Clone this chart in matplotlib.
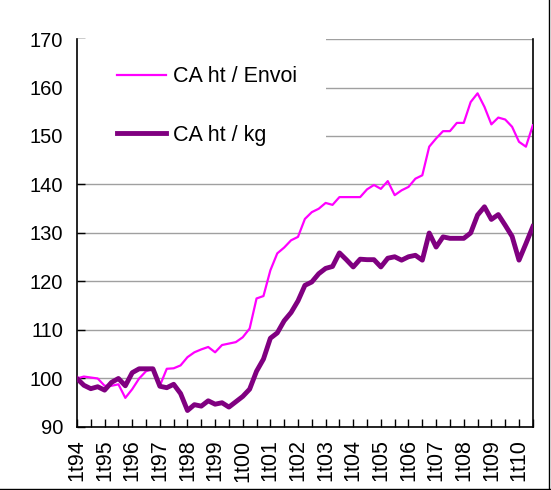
import numpy as np
import matplotlib
matplotlib.use('Agg')
import matplotlib.pyplot as plt
from matplotlib.lines import Line2D
from matplotlib.patches import Rectangle

plt.rcParams['font.family'] = ['Liberation Sans', 'DejaVu Sans']

# quarters 1t94 .. 3t10
years = ['94', '95', '96', '97', '98', '99', '00', '01', '02', '03',
         '04', '05', '06', '07', '08', '09', '10']
quarters = [f'{q}t{y}' for y in years for q in range(1, 5)][:67]

envoi = [100, 100.4, 100.2, 100, 98.5, 98.5, 98.8, 96, 97.8, 100,
         101.5, 102, 98.5, 102, 102.1, 102.7, 104.4, 105.4, 106, 106.5,
         105.4, 106.9, 107.2, 107.5, 108.5, 110.3, 116.5, 117, 122.3, 125.8,
         127, 128.5, 129.2, 132.9, 134.3, 135, 136.2, 135.8, 137.4, 137.4,
         137.4, 137.4, 139, 139.9, 139.1, 140.7, 137.8, 138.8, 139.5, 141.2,
         141.9, 147.8, 149.5, 151, 151, 152.7, 152.7, 157, 158.8, 156,
         152.4, 153.8, 153.4, 151.9, 148.8, 147.8, 152.2]

kg = [100, 98.6, 97.9, 98.3, 97.6, 99.2, 100, 98.5, 101.2, 102,
      102, 102, 98.4, 98.1, 98.8, 96.9, 93.4, 94.6, 94.3, 95.4,
      94.7, 95, 94.1, 95.2, 96.3, 97.8, 101.5, 104, 108.3, 109.4,
      111.9, 113.6, 116, 119.2, 119.9, 121.6, 122.7, 123.1, 125.9, 124.5,
      123, 124.6, 124.5, 124.5, 123, 124.8, 125.1, 124.4, 125.1, 125.4,
      124.4, 130, 127.1, 129.2, 128.9, 128.9, 128.9, 130, 133.7, 135.4,
      132.8, 133.8, 131.6, 129.3, 124.4, 127.8, 131.3]

x = np.arange(len(quarters))

fig = plt.figure(figsize=(5.51, 4.9), dpi=100)
ax = fig.add_axes([0.1397, 0.1286, 0.8273, 0.7918])

ax.set_axisbelow(True)
ax.yaxis.grid(True, color='#a0a0a0', linewidth=1.0)

# white area behind the legend (hides gridlines)
ax.add_patch(Rectangle((0, 0.66), 0.546, 0.34, transform=ax.transAxes,
                       facecolor='white', edgecolor='none', zorder=1))

ax.plot(x, envoi, color='#ff00ff', linewidth=1.6, label='CA ht / Envoi', zorder=3)
ax.plot(x, kg, color='#800080', linewidth=3.5, label='CA ht / kg', zorder=3)

ax.set_xlim(0, len(x) - 1)
ax.set_ylim(90, 170)
ax.set_yticks(range(90, 171, 10))
ax.set_xticks(x[::4])
ax.set_xticklabels(quarters[::4], rotation=90)
ax.set_xticks(x[::2], minor=True)

ax.tick_params(axis='y', direction='in', length=6, width=1, pad=10, labelsize=14.5)
ax.tick_params(axis='x', which='both', direction='in', length=6, width=1, pad=9, labelsize=15.5)
ax.tick_params(axis='x', which='minor', labelbottom=False)

ax.spines['top'].set_visible(False)
for s in ['left', 'bottom', 'right']:
    ax.spines[s].set_color('black')
    ax.spines[s].set_linewidth(1.2)

ax.legend(loc='upper left', bbox_to_anchor=(0.0877, 0.93), frameon=False,
          fontsize=15.5, handlelength=2.3, handletextpad=0.3, labelspacing=1.75,
          borderpad=0, borderaxespad=0)

# chart border (right and bottom)
fig.add_artist(Line2D([0.997, 0.997], [0, 1], transform=fig.transFigure, color='black', linewidth=1))
fig.add_artist(Line2D([0, 1], [0.003, 0.003], transform=fig.transFigure, color='black', linewidth=1))

fig.savefig('out.png', dpi=100)
